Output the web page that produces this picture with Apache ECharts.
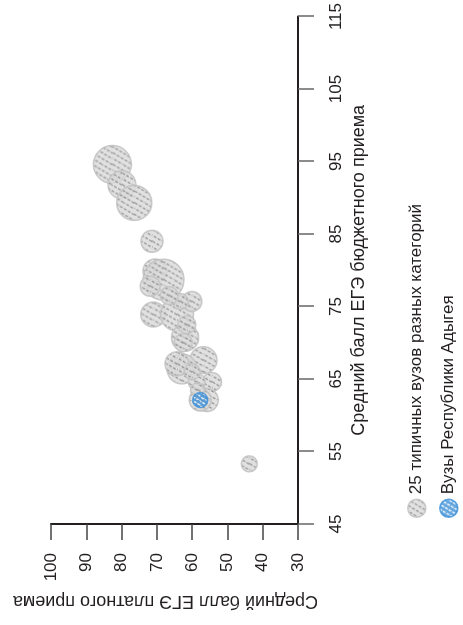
<!DOCTYPE html>
<html>
<head>
<meta charset="utf-8">
<script src="https://cdn.jsdelivr.net/npm/echarts@6/dist/echarts.min.js"></script>
<style>
html,body{margin:0;padding:0;background:#fff;overflow:hidden;width:463px;height:625px;}
#c{position:absolute;left:-81px;top:81px;width:625px;height:463px;transform:rotate(-90deg);transform-origin:50% 50%;}
</style>
</head>
<body>
<div id="c"></div>
<script>
// Typical universities: budget-admission score (x), paid-admission score (y), bubble diameter
const budgetScore = [94.6, 91.8, 89.3, 84.0, 79.9, 78.7, 77.8, 73.9, 73.9, 75.7, 75.7, 70.7, 67.6, 66.4, 67.1, 64.6, 64.6, 62.1, 62.1, 53.3, 76.5, 72.5, 70.0, 66.0, 63.5];
const paidScore   = [82.6, 79.9, 76.4, 71.4, 70.5, 68.1, 71.9, 71.0, 64.3, 60.1, 63.4, 62.0, 56.8, 62.9, 64.3, 54.4, 58.7, 55.8, 57.7, 43.8, 66.5, 61.5, 62.5, 60.0, 58.5];
const bubbleSize  = [38, 28, 35, 22, 24, 41, 20, 25, 33, 20, 16, 27, 27, 30, 24, 19, 17, 23, 22, 16, 18, 18, 18, 16, 14];
// Universities of the Republic of Adygea
const adygeaBudget = [62.1];
const adygeaPaid   = [57.7];
const adygeaSize   = [15];
// Axis ticks
const xTicks = [45, 55, 65, 75, 85, 95, 105, 115];
const yTicks = [30, 40, 50, 60, 70, 80, 90, 100];

const seriesNames = ['25 типичных вузов разных категорий', 'Вузы Республики Адыгея'];
const xName = 'Средний балл ЕГЭ бюджетного приема';
const yName = 'Средний балл ЕГЭ платного приема';

const FONT = "'Liberation Sans Narrow','Liberation Sans',Arial,sans-serif";

function hatchCanvas(bg, fg, lw, spacing, dash) {
  const cv = document.createElement('canvas');
  cv.width = 700; cv.height = 700;
  const ctx = cv.getContext('2d');
  ctx.fillStyle = bg; ctx.fillRect(0, 0, 700, 700);
  ctx.strokeStyle = fg; ctx.lineWidth = lw; ctx.setLineDash(dash);
  const a = 59 * Math.PI / 180;
  const d = [Math.cos(a), -Math.sin(a)], n = [Math.sin(a), Math.cos(a)];
  for (let t = -1200; t <= 1200; t += spacing) {
    const px = 350 + n[0] * t, py = 350 + n[1] * t;
    ctx.beginPath();
    ctx.moveTo(px - d[0] * 1000, py - d[1] * 1000);
    ctx.lineTo(px + d[0] * 1000, py + d[1] * 1000);
    ctx.stroke();
  }
  return cv;
}
const grayCv = hatchCanvas('#dcdcdc', '#858585', 1.3, 5, [3, 1.6]);
const blueCv = hatchCanvas('#3b8fd8', '#ffffff', 1.4, 4.2, [3, 1.2]);
// symbols are drawn at unit size and scaled by diameter/2, so compensate the pattern scale
const pat = (cv, diam) => ({image: cv, repeat: 'repeat', scaleX: 2 / diam, scaleY: 2 / diam, x: 0, y: 0});

const typical = budgetScore.map((v, i) => ({
  value: [v, paidScore[i], bubbleSize[i]],
  itemStyle: {color: pat(grayCv, bubbleSize[i])}
}));
const adygea = adygeaBudget.map((v, i) => ({
  value: [v, adygeaPaid[i], adygeaSize[i]],
  itemStyle: {color: pat(blueCv, adygeaSize[i])}
}));

const legendCommon = {
  orient: 'vertical', left: 102, itemWidth: 18, itemHeight: 18, icon: 'circle', itemGap: 4,
  textStyle: {fontFamily: FONT, fontSize: 17, color: '#231f20'}
};

const chart = echarts.init(document.getElementById('c'), null, {renderer: 'canvas'});
chart.setOption({
  animation: false,
  backgroundColor: '#fff',
  grid: {left: 101, right: 10, top: 51, bottom: 165},
  legend: [
    Object.assign({top: 402, data: [{name: seriesNames[0], itemStyle: {color: {image: grayCv, repeat: 'repeat'}, borderColor: '#c2c2c2', borderWidth: 1.5}}]}, legendCommon),
    Object.assign({top: 434, data: [{name: seriesNames[1], itemStyle: {color: {image: blueCv, repeat: 'repeat'}, borderColor: '#3b8fd8', borderWidth: 1.5}}]}, legendCommon)
  ],
  xAxis: {
    type: 'value', min: xTicks[0], max: xTicks[xTicks.length - 1], interval: 10,
    name: xName, nameLocation: 'middle', nameGap: 46,
    nameTextStyle: {fontFamily: FONT, fontSize: 18, color: '#231f20'},
    axisLine: {show: true, onZero: false, lineStyle: {color: '#231f20', width: 2}},
    axisTick: {show: true, inside: false, length: 16, lineStyle: {color: '#666', width: 1.5}},
    axisLabel: {margin: 30, fontFamily: FONT, fontSize: 17, color: '#231f20'},
    splitLine: {show: false}
  },
  yAxis: {
    type: 'value', min: yTicks[0], max: yTicks[yTicks.length - 1], interval: 10,
    name: yName, nameLocation: 'middle', nameGap: 68,
    nameTextStyle: {fontFamily: FONT, fontSize: 18, color: '#231f20', padding: [0, 0, 0, 18]},
    axisLine: {show: true, onZero: false, lineStyle: {color: '#231f20', width: 2}},
    axisTick: {show: true, inside: false, length: 16, lineStyle: {color: '#444', width: 1.5}},
    axisLabel: {margin: 29, fontFamily: FONT, fontSize: 17, color: '#231f20'},
    splitLine: {show: false}
  },
  series: [
    {
      name: seriesNames[0], type: 'scatter', data: typical,
      symbolSize: d => d[2],
      itemStyle: {color: '#dcdcdc', borderColor: '#c2c2c2', borderWidth: 1.5, opacity: 0.85}
    },
    {
      name: seriesNames[1], type: 'scatter', data: adygea,
      symbolSize: d => d[2],
      itemStyle: {color: '#3b8fd8', borderColor: '#3b8fd8', borderWidth: 1.5}
    }
  ]
});
</script>
</body>
</html>
